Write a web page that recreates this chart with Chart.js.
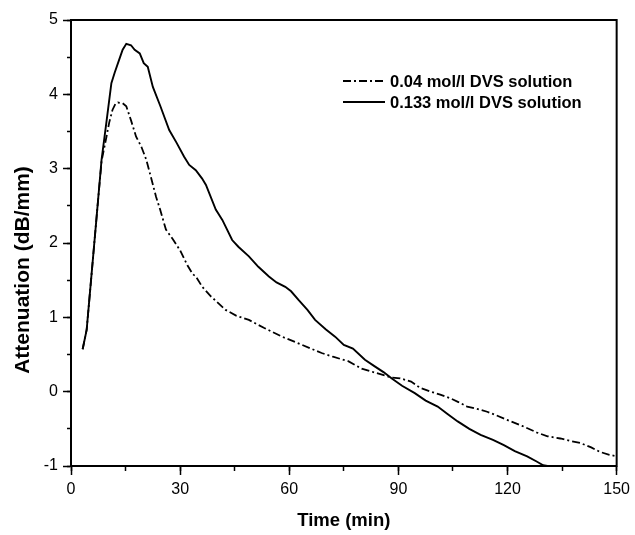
<!DOCTYPE html>
<html>
<head>
<meta charset="utf-8">
<script src="https://cdn.jsdelivr.net/npm/chart.js@4/dist/chart.umd.min.js"></script>
<style>
  html, body { margin: 0; padding: 0; background: #fff; }
  #wrap { width: 635px; height: 535px; }
</style>
</head>
<body>
<div id="wrap"><canvas id="c" width="635" height="535"></canvas></div>
<script>
// ---- data ----
const seriesNames = ['0.04 mol/l DVS solution', '0.133 mol/l DVS solution'];
const xTickLabels = [0, 30, 60, 90, 120, 150];
const yTickLabels = [-1, 0, 1, 2, 3, 4, 5];
const xTitle = 'Time (min)';
const yTitle = 'Attenuation (dB/mm)';

const timeLow = [3.2, 4.3, 5.6, 7.0, 8.4, 9.75, 10.5, 11.4, 12.2, 12.9, 14.2, 15.2, 16.5, 17.9, 19.3, 20.7, 22.0, 23.4, 24.5, 26.1, 28.0, 30.0, 32.0, 33.5, 34.3, 36.1, 38.5, 42.5, 45.5, 48.9, 53.0, 58.0, 63.0, 68.9, 72.0, 76.2, 79.9, 84.0, 88.1, 90.5, 93.5, 96.0, 98.9, 101.5, 104.3, 106.5, 108.9, 111.5, 114.4, 117.0, 119.9, 124.0, 128.1, 131.0, 134.5, 137.0, 140.0, 143.0, 145.4, 148.0, 150.0];
const attLow = [0.57, 0.83, 1.55, 2.33, 3.10, 3.43, 3.62, 3.79, 3.87, 3.89, 3.88, 3.84, 3.65, 3.43, 3.30, 3.12, 2.88, 2.62, 2.45, 2.18, 2.05, 1.90, 1.70, 1.58, 1.55, 1.41, 1.28, 1.10, 1.02, 0.965, 0.86, 0.74, 0.64, 0.52, 0.47, 0.41, 0.31, 0.25, 0.19, 0.18, 0.135, 0.05, 0.0, -0.04, -0.09, -0.14, -0.20, -0.23, -0.27, -0.32, -0.38, -0.46, -0.55, -0.60, -0.63, -0.66, -0.69, -0.75, -0.81, -0.85, -0.87];

const timeHigh = [3.2, 4.3, 5.6, 7.0, 8.4, 9.8, 11.1, 12.0, 13.2, 14.2, 15.2, 16.5, 17.5, 18.9, 20.0, 21.1, 22.5, 24.5, 27.0, 29.0, 31.1, 32.5, 34.3, 36.0, 37.1, 39.8, 41.6, 44.3, 46.0, 48.9, 51.5, 54.4, 56.5, 58.9, 60.5, 62.6, 65.0, 67.1, 70.0, 72.6, 75.0, 77.5, 80.8, 83.5, 86.0, 88.1, 91.0, 94.5, 97.5, 100.8, 103.5, 106.3, 109.5, 112.6, 116.0, 119.0, 122.0, 125.4, 128.0, 129.8, 131.0];
const attHigh = [0.57, 0.83, 1.55, 2.33, 3.12, 3.65, 4.15, 4.29, 4.46, 4.60, 4.68, 4.66, 4.60, 4.55, 4.42, 4.37, 4.10, 3.85, 3.52, 3.35, 3.16, 3.05, 2.98, 2.87, 2.78, 2.45, 2.31, 2.04, 1.95, 1.82, 1.68, 1.55, 1.47, 1.41, 1.35, 1.23, 1.10, 0.965, 0.84, 0.74, 0.63, 0.58, 0.43, 0.34, 0.26, 0.18, 0.08, -0.02, -0.12, -0.20, -0.30, -0.40, -0.50, -0.58, -0.65, -0.72, -0.80, -0.87, -0.94, -0.99, -1.0];

const FONT = "'Liberation Sans', Arial, Helvetica, sans-serif";
const toPoints = (xs, ys) => xs.map((x, i) => ({ x: x, y: ys[i] }));

const framePlugin = {
  id: 'frame',
  afterDraw(chart) {
    const { ctx, chartArea: a } = chart;
    ctx.save();
    ctx.strokeStyle = '#000';
    ctx.lineWidth = 2;
    ctx.beginPath();
    ctx.moveTo(a.left - 1, a.top);
    ctx.lineTo(a.right, a.top);
    ctx.lineTo(a.right, a.bottom + 1);
    ctx.stroke();
    ctx.restore();
  }
};

const textPlugin = {
  id: 'texts',
  afterDraw(chart) {
    const { ctx, chartArea: a } = chart;
    ctx.save();
    ctx.fillStyle = '#000';
    // axis titles
    ctx.textAlign = 'center';
    ctx.textBaseline = 'middle';
    ctx.font = 'bold 18.5px ' + FONT;
    ctx.fillText(xTitle, (a.left + a.right) / 2, 521);
    ctx.save();
    ctx.font = 'bold 21px ' + FONT;
    ctx.translate(23, 270);
    ctx.rotate(-Math.PI / 2);
    ctx.fillText(yTitle, 0, 0);
    ctx.restore();
    // legend
    const ds = chart.data.datasets;
    const rows = [81, 102];
    ctx.font = 'bold 16.5px ' + FONT;
    ctx.textAlign = 'left';
    ds.forEach((d, i) => {
      ctx.save();
      ctx.strokeStyle = d.borderColor;
      ctx.lineWidth = d.borderWidth;
      ctx.setLineDash(d.borderDash || []);
      ctx.beginPath();
      ctx.moveTo(343, rows[i]);
      ctx.lineTo(385, rows[i]);
      ctx.stroke();
      ctx.restore();
      ctx.fillText(d.label, 390, rows[i] + 1);
    });
    ctx.restore();
  }
};

const tickFont = { family: FONT, size: 16 };

new Chart(document.getElementById('c'), {
  type: 'line',
  data: {
    datasets: [
      {
        label: seriesNames[0],
        data: toPoints(timeLow, attLow),
        borderColor: '#000',
        borderWidth: 1.8,
        borderDash: [8, 3, 2, 3],
        pointRadius: 0,
        tension: 0,
        fill: false
      },
      {
        label: seriesNames[1],
        data: toPoints(timeHigh, attHigh),
        borderColor: '#000',
        borderWidth: 1.9,
        pointRadius: 0,
        tension: 0,
        fill: false
      }
    ]
  },
  options: {
    responsive: false,
    animation: false,
    layout: { padding: { top: 20, right: 15, left: 0, bottom: 0 } },
    plugins: { legend: { display: false }, tooltip: { enabled: false } },
    scales: {
      x: {
        type: 'linear', position: 'bottom', weight: 1,
        min: 0, max: 150,
        ticks: {
          stepSize: 30, autoSkip: false, maxRotation: 0, color: '#000', font: tickFont, padding: 5,
          callback: v => (xTickLabels.includes(v) ? String(v) : '')
        },
        grid: { drawOnChartArea: false, tickLength: 9, color: '#000', tickWidth: 1.5 },
        border: { color: '#000', width: 2 },
        afterFit: s => { s.height = 69; }
      },
      x2: {
        type: 'linear', position: 'bottom', weight: 0,
        min: 0, max: 150,
        ticks: { stepSize: 15, display: false },
        grid: { drawOnChartArea: false, tickLength: 5, color: '#000', tickWidth: 1.5 },
        border: { display: false },
        afterFit: s => { s.height = 0; }
      },
      y: {
        type: 'linear', position: 'left', weight: 1,
        min: -1, max: 5,
        ticks: {
          stepSize: 1, color: '#000', font: tickFont, padding: 5,
          callback: v => (yTickLabels.includes(v) ? String(v) : '')
        },
        grid: { drawOnChartArea: false, tickLength: 8, color: '#000', tickWidth: 1.5 },
        border: { color: '#000', width: 2 },
        afterFit: s => { s.width = 71; }
      },
      y2: {
        type: 'linear', position: 'left', weight: 0,
        min: -1, max: 5,
        ticks: { stepSize: 0.5, display: false },
        grid: { drawOnChartArea: false, tickLength: 4, color: '#000', tickWidth: 1.5 },
        border: { display: false },
        afterFit: s => { s.width = 0; }
      }
    }
  },
  plugins: [framePlugin, textPlugin]
});
</script>
</body>
</html>
